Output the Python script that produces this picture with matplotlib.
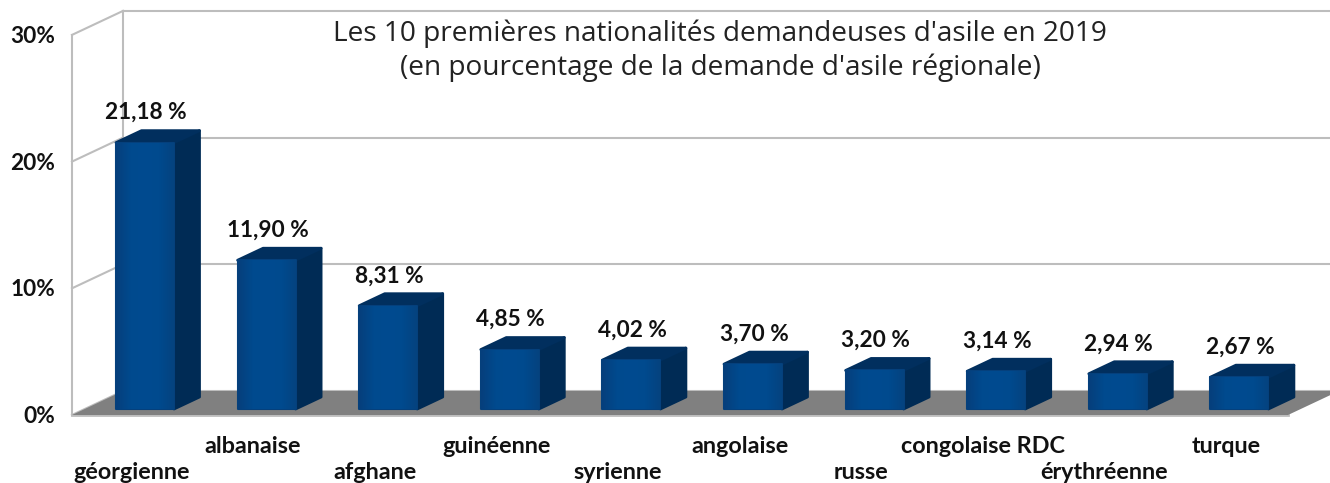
import matplotlib
matplotlib.use("Agg")
import matplotlib.pyplot as plt
import numpy as np
from matplotlib.colors import LinearSegmentedColormap
from matplotlib.patches import Polygon

nationalities = ["géorgienne", "albanaise", "afghane", "guinéenne", "syrienne",
                 "angolaise", "russe", "congolaise RDC", "érythréenne", "turque"]
shares = [21.18, 11.90, 8.31, 4.85, 4.02, 3.70, 3.20, 3.14, 2.94, 2.67]
value_labels = ["21,18 %", "11,90 %", "8,31 %", "4,85 %", "4,02 %",
                "3,70 %", "3,20 %", "3,14 %", "2,94 %", "2,67 %"]
y_ticks = [0, 10, 20, 30]
title = "Les 10 premières nationalités demandeuses d'asile en 2019\n(en pourcentage de la demande d'asile régionale)"

W, H = 1330, 483
PX_X = 121.6  # pixels per category
PX_Y = 12.67  # pixels per percent
X0_PX, Y0_PX = 145, 415

# oblique projection: depth 0 = front of the floor, 1 = back wall
DX = 51 / PX_X
DY = 24 / PX_Y


def proj(x, y, depth=0.0):
    return x + depth * DX, y + depth * DY


fig = plt.figure(figsize=(W / 100, H / 100), dpi=100)
ax = fig.add_axes([0, 0, 1, 1])
ax.axis("off")

GRID = "#bdbdbd"
x_left = -73 / PX_X
x_right = 1143 / PX_X  # front right corner of the floor

# walls and gridlines
for t in y_ticks:
    xa, ya = proj(x_left, t, 0)
    xb, yb = proj(x_left, t, 1)
    ax.plot([xa, xb], [ya, yb], color=GRID, lw=1.5, zorder=1)
    ax.plot([xb, 20], [yb, yb], color=GRID, lw=1.5, zorder=1)
    ax.text(xa - 17 / PX_X, t - 0.12, f"{t}%", ha="right", va="center",
            family="Lato", weight="bold", fontsize=16.3, color="#111111")
for d in (0, 1):
    xa, ya = proj(x_left, 0, d)
    xb, yb = proj(x_left, y_ticks[-1], d)
    ax.plot([xa, xb], [ya, yb], color=GRID, lw=1.5, zorder=1)
ax.plot([x_left, x_right], [0, 0], color=GRID, lw=2, zorder=1)

# floor
floor = [proj(x_left, 0, 0), proj(x_right, 0, 0), proj(x_right, 0, 1), proj(x_left, 0, 1)]
ax.add_patch(Polygon(floor, closed=True, facecolor="#808080", edgecolor="none", zorder=2))

front_cmap = LinearSegmentedColormap.from_list(
    "front", ["#063f7c", "#004a8e", "#004b90", "#004a8e", "#05437f"])
half = 29 / PX_X
d_front, d_back = 0.25, 0.75
bevel = 2 / PX_Y  # rounded top edge takes a little off the visible height

for i, value in enumerate(shares):
    cx = i - d_front * DX  # bar centre, shifted so the front face sits on the category
    left, right = cx - half, cx + half
    h = value - bevel
    front = [proj(left, 0, d_front), proj(right, 0, d_front),
             proj(right, h, d_front), proj(left, h, d_front)]
    side = [proj(right, 0, d_front), proj(right, 0, d_back),
            proj(right, h, d_back), proj(right, h, d_front)]
    top = [proj(left, h, d_front), proj(right, h, d_front),
           proj(right, h, d_back), proj(left, h, d_back)]
    ax.add_patch(Polygon(side, closed=True, facecolor="#002b55", edgecolor="#002b55",
                         lw=2, joinstyle="round", zorder=3))
    ax.add_patch(Polygon(top, closed=True, facecolor="#012f5e", edgecolor="#012f5e",
                         lw=2, joinstyle="round", zorder=3))
    front_patch = Polygon(front, closed=True, facecolor="#004a8e", edgecolor="#05407c",
                          lw=1.5, joinstyle="round", zorder=4)
    ax.add_patch(front_patch)
    im = ax.imshow(np.linspace(0, 1, 64).reshape(1, -1), cmap=front_cmap, aspect="auto",
                   extent=[front[0][0], front[1][0], front[0][1], front[2][1]], zorder=4.5)
    im.set_clip_path(front_patch)

    bx, by = proj(i, h, d_back)
    ax.text(i + 1 / PX_X, by + 18 / PX_Y, value_labels[i], ha="center", va="center",
            family="Lato", weight="bold", fontsize=16.3, color="#111111", zorder=6)
    ax.text(i - 13.5 / PX_X, -2.45 if i % 2 else -4.5, nationalities[i], ha="center",
            va="center", family="Lato", weight="bold", fontsize=16.8, color="#111111", zorder=6)

ax.set_xlim(-X0_PX / PX_X, (W - X0_PX) / PX_X)
ax.set_ylim(-(H - Y0_PX) / PX_Y, Y0_PX / PX_Y)

ax.text(720 / W, (H - 50.5) / H, title, transform=ax.transAxes, ha="center", va="center",
        family="Open Sans", fontsize=20.2, color="#222222", linespacing=1.25, zorder=6)

fig.savefig("out.png", dpi=100)
